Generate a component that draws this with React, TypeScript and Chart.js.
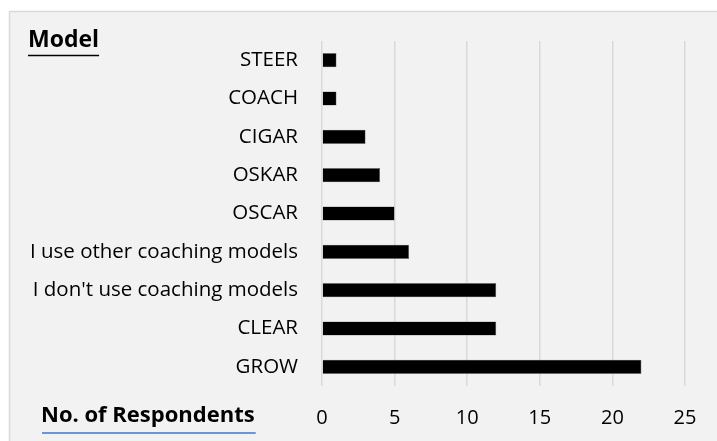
import React, { useEffect, useRef } from "react";
import { Chart, registerables } from "chart.js";

Chart.register(...registerables);

const categories = [
  "STEER",
  "COACH",
  "CIGAR",
  "OSKAR",
  "OSCAR",
  "I use other coaching models",
  "I don't use coaching models",
  "CLEAR",
  "GROW",
];
const respondents = [1, 1, 3, 4, 5, 6, 12, 12, 22];
const xTicks = [0, 5, 10, 15, 20, 25];

const FONT = '"Open Sans", "Noto Sans", sans-serif';

// Draws the framed grey panel behind the chart and the two axis captions.
const panelPlugin = {
  id: "panel",
  beforeDraw(chart: Chart) {
    const { ctx, width, height } = chart;
    ctx.save();
    ctx.fillStyle = "#ffffff";
    ctx.fillRect(0, 0, width, height);
    ctx.fillStyle = "#f2f2f2";
    ctx.fillRect(9.5, 11.5, width, height);
    ctx.strokeStyle = "#d9d9d9";
    ctx.lineWidth = 1.5;
    ctx.beginPath();
    ctx.moveTo(9.5, height + 2);
    ctx.lineTo(9.5, 11.5);
    ctx.lineTo(width + 2, 11.5);
    ctx.stroke();
    ctx.restore();
  },
  afterDraw(chart: Chart) {
    const { ctx } = chart;
    ctx.save();
    ctx.fillStyle = "#000000";
    ctx.font = `bold 23px ${FONT}`;
    ctx.textAlign = "left";
    ctx.textBaseline = "alphabetic";
    ctx.fillText("Model", 28, 47);
    const mw = ctx.measureText("Model").width;
    ctx.strokeStyle = "#000000";
    ctx.lineWidth = 1.5;
    ctx.beginPath();
    ctx.moveTo(28, 55.5);
    ctx.lineTo(28 + mw, 55.5);
    ctx.stroke();

    ctx.font = `bold 22px ${FONT}`;
    ctx.fillText("No. of Respondents", 41, 422);
    const rw = ctx.measureText("No. of Respondents").width;
    ctx.strokeStyle = "#6a95d8";
    ctx.lineWidth = 2;
    ctx.beginPath();
    ctx.moveTo(42, 433);
    ctx.lineTo(42 + rw, 433);
    ctx.stroke();
    ctx.restore();
  },
};

export default function App() {
  const canvasRef = useRef<HTMLCanvasElement | null>(null);

  useEffect(() => {
    if (!canvasRef.current) return;
    const chart = new Chart(canvasRef.current, {
      type: "bar",
      data: {
        labels: categories,
        datasets: [
          {
            label: "No. of Respondents",
            data: respondents,
            backgroundColor: "#000000",
            borderColor: "#6e6e6e",
            borderWidth: 0.6,
            barPercentage: 0.37,
            categoryPercentage: 1,
          },
        ],
      },
      options: {
        indexAxis: "y",
        animation: false,
        responsive: false,
        maintainAspectRatio: false,
        layout: { padding: { top: 41, right: 32, bottom: 0, left: 0 } },
        plugins: {
          legend: { display: false },
          tooltip: { enabled: false },
          title: { display: false },
        },
        scales: {
          x: {
            min: 0,
            max: 25,
            afterBuildTicks(scale: any) {
              scale.ticks = xTicks.map((v) => ({ value: v }));
            },
            afterFit(scale: any) {
              scale.height = 55;
            },
            border: { display: false },
            grid: { color: "#d9d9d9", lineWidth: 1.5, drawTicks: false },
            ticks: {
              color: "#000000",
              font: { family: FONT, size: 20 },
              padding: 20,
            },
          },
          y: {
            afterFit(scale: any) {
              scale.width = 322;
            },
            border: { display: false },
            grid: { display: false, drawTicks: false },
            ticks: {
              color: "#000000",
              font: { family: FONT, size: 20.5 },
              padding: 24,
            },
          },
        },
      },
      plugins: [panelPlugin],
    });
    return () => chart.destroy();
  }, []);

  return (
    <div style={{ position: "absolute", left: 0, top: 0, width: 717, height: 441 }}>
      <canvas ref={canvasRef} width={717} height={441} style={{ display: "block" }} />
    </div>
  );
}
